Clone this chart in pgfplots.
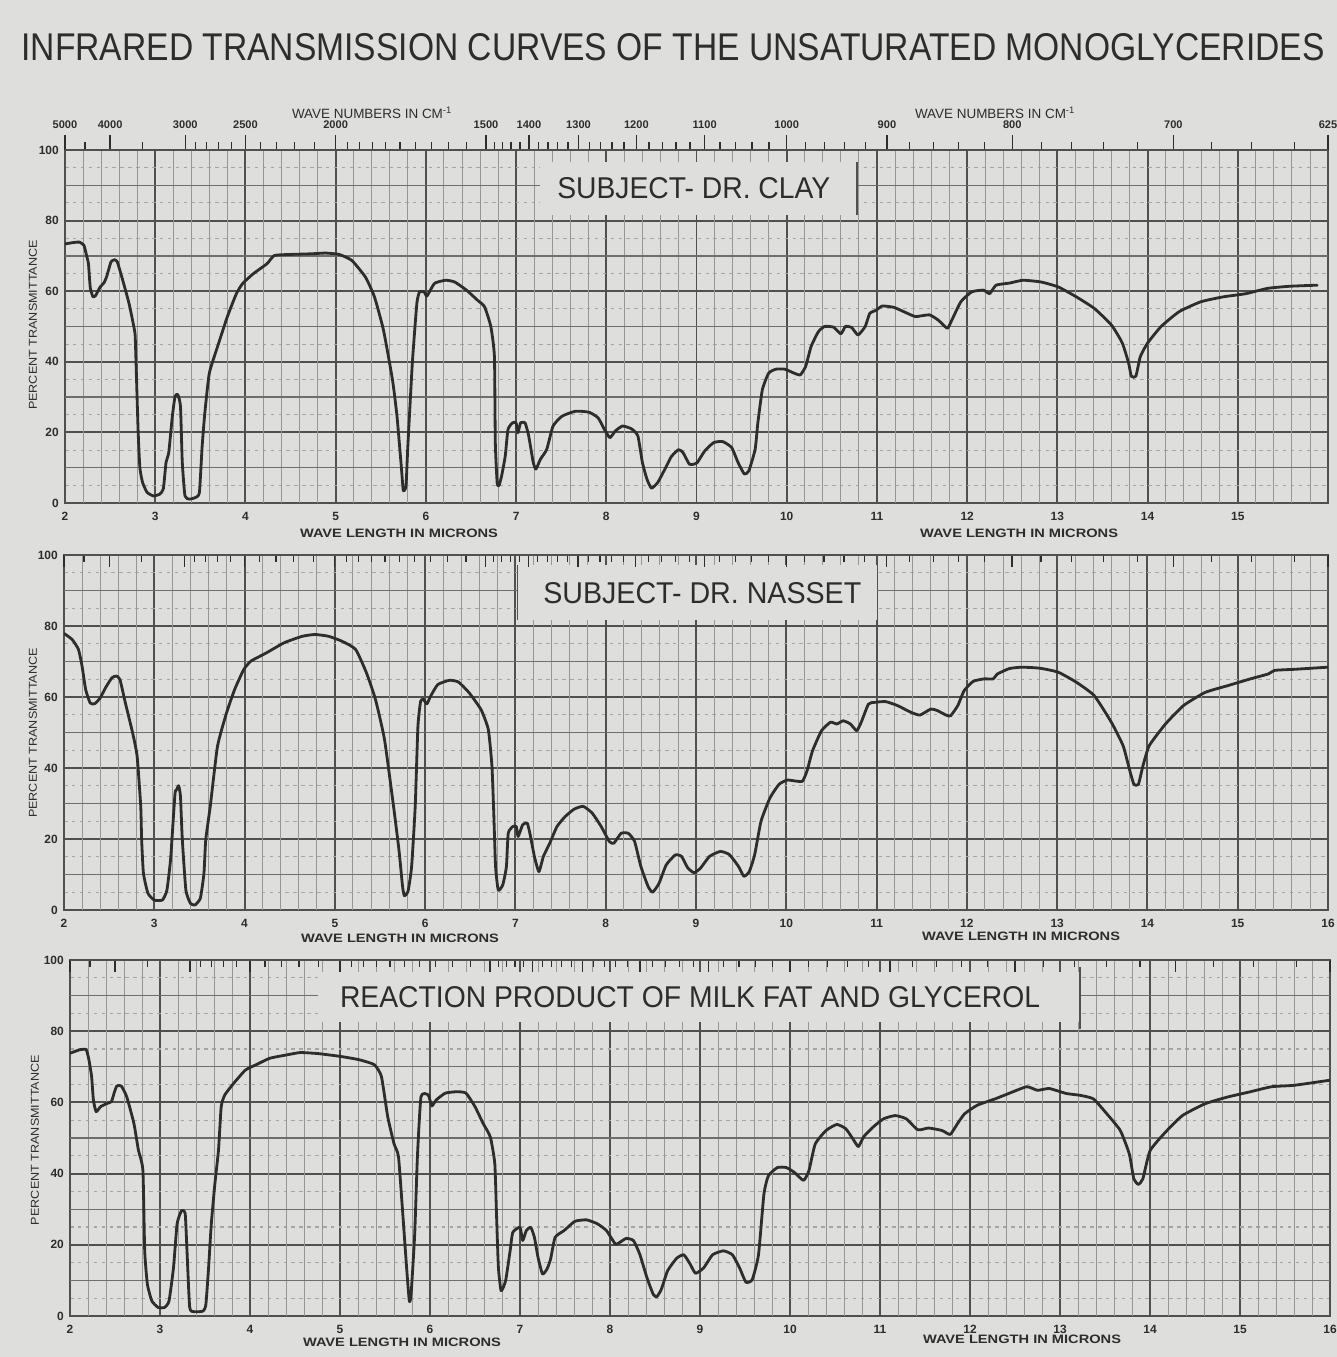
\documentclass[border=0pt]{standalone}
\usepackage{graphicx}
\usepackage{pgfplots}
\pgfplotsset{compat=1.18}
\usepackage{fontspec}
\setmainfont{Liberation Sans}
\setsansfont{Liberation Sans}

\definecolor{bg}{RGB}{222,222,220}
\definecolor{ink}{RGB}{45,45,45}
\definecolor{gmaj}{RGB}{80,80,80}
\definecolor{gmid}{RGB}{110,110,110}
\definecolor{gmin}{RGB}{150,150,150}
\definecolor{gdot}{RGB}{165,165,165}

\pgfplotstableread{
x y
2.00 73.4
2.10 73.8
2.16 73.9
2.21 73.0
2.24 70.0
2.26 67.8
2.28 61.0
2.31 58.4
2.34 58.8
2.39 61.2
2.43 62.3
2.46 64.0
2.51 68.3
2.55 68.9
2.58 68.3
2.63 64.0
2.71 56.5
2.77 49.0
2.78 46.0
2.81 20.8
2.83 10.0
2.86 5.8
2.91 3.0
2.98 2.0
3.05 2.5
3.09 4.0
3.12 11.5
3.15 14.3
3.19 24.6
3.22 30.2
3.25 30.7
3.28 27.4
3.30 11.5
3.33 2.0
3.38 1.1
3.45 1.6
3.49 3.0
3.52 16.0
3.55 25.5
3.60 36.8
3.70 45.0
3.80 52.8
3.90 59.3
3.97 62.2
4.09 65.0
4.24 67.8
4.32 70.1
4.49 70.4
4.74 70.6
4.89 70.8
5.04 70.4
5.18 68.7
5.33 64.0
5.43 58.4
5.53 49.0
5.63 34.9
5.68 24.6
5.73 9.6
5.75 3.5
5.78 4.9
5.80 16.0
5.85 39.6
5.90 56.5
5.93 59.8
5.98 59.8
6.01 58.6
6.05 60.3
6.10 62.3
6.22 63.1
6.32 62.6
6.45 60.3
6.57 57.5
6.65 55.6
6.72 50.0
6.76 41.5
6.77 17.0
6.79 5.8
6.81 4.9
6.84 7.7
6.88 13.3
6.91 20.8
6.96 22.7
7.00 22.7
7.02 19.9
7.05 22.7
7.10 22.7
7.14 19.0
7.19 11.5
7.22 9.6
7.27 12.4
7.34 15.2
7.41 21.8
7.51 24.6
7.66 26.0
7.81 25.7
7.91 24.1
7.98 20.8
8.04 18.5
8.10 20.4
8.18 21.8
8.28 21.0
8.35 19.0
8.40 11.5
8.45 6.8
8.50 4.2
8.57 5.8
8.65 9.6
8.72 13.1
8.80 15.1
8.85 14.3
8.92 11.0
8.97 11.0
9.01 11.5
9.09 14.7
9.19 17.1
9.29 17.4
9.39 15.7
9.46 11.5
9.53 8.2
9.58 9.1
9.65 15.2
9.68 22.7
9.73 32.1
9.80 36.8
9.88 37.9
9.98 37.9
10.08 36.8
10.15 36.3
10.21 38.7
10.27 44.3
10.35 48.5
10.42 50.0
10.52 49.8
10.60 47.9
10.65 50.0
10.72 49.7
10.79 47.6
10.87 50.0
10.92 53.7
10.99 54.6
11.06 55.8
11.19 55.4
11.34 53.7
11.43 52.8
11.58 53.3
11.68 51.8
11.78 49.5
11.83 51.8
11.93 57.0
12.05 59.8
12.18 60.3
12.25 59.3
12.32 61.7
12.47 62.3
12.62 63.1
12.82 62.6
13.01 61.2
13.21 58.4
13.41 55.1
13.60 50.4
13.72 45.3
13.79 39.6
13.82 35.9
13.87 35.9
13.92 41.5
14.00 45.3
14.15 50.0
14.35 54.2
14.59 57.0
14.84 58.4
15.09 59.3
15.33 60.8
15.58 61.4
15.88 61.7
}\clay

\pgfplotstableread{
x y
2.00 77.9
2.09 76.2
2.16 73.4
2.20 68.7
2.24 62.1
2.29 58.3
2.34 58.1
2.40 59.7
2.46 62.6
2.53 65.4
2.58 65.9
2.62 64.9
2.68 58.3
2.76 49.9
2.81 43.3
2.85 29.2
2.86 19.8
2.88 10.3
2.93 4.7
3.00 2.8
3.09 2.8
3.14 5.6
3.18 14.1
3.20 21.6
3.23 32.9
3.25 34.0
3.27 35.0
3.29 32.0
3.31 20.0
3.35 5.6
3.40 1.9
3.45 1.4
3.51 3.3
3.55 10.3
3.57 19.8
3.62 29.2
3.70 46.1
3.80 55.5
3.89 62.1
3.99 67.7
4.07 70.1
4.24 72.4
4.44 75.3
4.64 77.1
4.78 77.6
4.93 77.1
5.08 75.7
5.23 73.4
5.35 66.8
5.45 59.3
5.55 48.0
5.65 29.2
5.71 16.9
5.75 6.6
5.77 4.0
5.81 5.2
5.85 12.2
5.89 29.2
5.92 51.7
5.95 58.8
5.98 59.3
6.02 58.1
6.06 60.2
6.14 63.5
6.27 64.7
6.37 64.2
6.49 61.1
6.62 56.4
6.70 50.8
6.74 40.5
6.76 27.3
6.78 12.2
6.81 5.6
6.86 7.1
6.90 12.2
6.92 21.6
6.97 23.5
7.01 23.5
7.03 20.7
7.08 24.0
7.13 24.5
7.16 21.6
7.21 15.1
7.26 10.8
7.31 15.1
7.38 18.8
7.46 23.5
7.55 26.3
7.65 28.4
7.75 29.2
7.85 27.3
7.95 23.5
8.04 19.3
8.09 18.8
8.17 21.6
8.25 21.6
8.32 19.3
8.39 12.2
8.47 6.6
8.52 5.0
8.59 7.5
8.67 12.7
8.77 15.5
8.84 15.1
8.91 11.8
8.98 10.5
9.05 11.8
9.15 15.1
9.27 16.5
9.37 15.6
9.47 12.3
9.53 9.5
9.59 10.8
9.65 15.6
9.72 25.0
9.82 31.6
9.92 35.4
10.01 36.6
10.11 36.3
10.18 36.3
10.23 39.2
10.29 44.8
10.39 50.5
10.49 52.9
10.56 52.4
10.63 53.3
10.71 52.4
10.78 50.5
10.83 52.9
10.91 58.0
10.98 58.5
11.10 58.7
11.23 57.6
11.38 55.7
11.48 54.9
11.60 56.6
11.67 56.2
11.77 54.9
11.82 54.7
11.90 57.6
11.97 61.8
12.07 64.4
12.19 65.1
12.29 65.1
12.34 66.5
12.47 68.0
12.61 68.4
12.81 68.1
13.01 67.0
13.21 64.2
13.41 60.4
13.60 52.9
13.73 46.3
13.80 39.7
13.85 35.4
13.90 35.4
13.95 40.6
14.02 46.3
14.20 52.4
14.40 57.6
14.64 61.3
14.89 63.2
15.14 65.1
15.34 66.5
15.41 67.5
15.63 67.8
16.00 68.4
}\nasset

\pgfplotstableread{
x y
2.00 73.8
2.11 74.8
2.18 74.8
2.21 72.0
2.24 67.3
2.26 60.7
2.29 57.4
2.34 58.8
2.41 59.7
2.46 60.2
2.49 62.6
2.52 64.6
2.57 64.6
2.63 61.6
2.71 54.1
2.76 46.6
2.81 40.9
2.83 18.3
2.86 8.9
2.91 4.2
2.98 2.4
3.05 2.4
3.10 4.2
3.15 13.6
3.19 25.9
3.24 29.6
3.28 28.7
3.30 18.3
3.33 2.4
3.38 1.2
3.48 1.4
3.51 3.3
3.54 13.6
3.57 25.9
3.61 37.2
3.65 46.6
3.68 58.8
3.72 62.1
3.82 65.4
3.95 69.1
4.07 70.6
4.22 72.4
4.42 73.4
4.56 74.0
4.76 73.7
5.01 72.9
5.21 72.0
5.38 70.6
5.46 67.3
5.53 56.0
5.60 48.4
5.65 44.7
5.70 27.8
5.74 13.6
5.77 4.2
5.79 6.1
5.83 23.0
5.86 44.7
5.90 61.6
5.98 62.1
6.02 59.0
6.07 60.7
6.17 62.6
6.30 63.0
6.40 62.6
6.50 58.8
6.59 54.1
6.67 50.3
6.72 42.8
6.74 27.8
6.76 13.6
6.79 7.1
6.84 9.9
6.89 18.3
6.92 23.5
7.00 24.9
7.03 21.2
7.07 24.0
7.12 24.9
7.16 22.1
7.20 16.5
7.25 11.8
7.30 13.2
7.34 16.0
7.39 22.1
7.49 24.0
7.61 26.6
7.74 27.0
7.86 25.9
7.96 24.0
8.06 20.2
8.11 20.7
8.18 21.8
8.26 21.2
8.33 17.4
8.41 10.8
8.48 6.1
8.52 5.4
8.57 7.5
8.64 12.7
8.74 16.2
8.82 17.2
8.89 14.6
8.95 12.0
9.04 13.5
9.14 17.2
9.26 18.3
9.36 17.2
9.44 13.5
9.51 9.5
9.58 10.2
9.65 17.2
9.71 34.2
9.76 39.4
9.86 41.7
9.96 41.7
10.05 40.3
10.15 38.1
10.21 40.8
10.28 48.3
10.40 52.1
10.52 53.8
10.62 52.6
10.70 49.7
10.76 47.6
10.82 50.4
10.92 53.0
11.04 55.4
11.17 56.3
11.29 55.4
11.42 52.3
11.54 52.8
11.69 52.1
11.78 51.0
11.86 54.0
11.94 56.8
12.08 59.2
12.28 61.0
12.43 62.5
12.63 64.4
12.75 63.4
12.88 63.9
13.07 62.5
13.22 62.0
13.37 61.0
13.52 56.8
13.67 52.1
13.77 45.5
13.82 38.5
13.87 37.0
13.92 38.5
14.00 46.4
14.17 51.6
14.36 56.3
14.61 59.6
14.86 61.5
15.10 62.9
15.35 64.4
15.60 64.8
15.99 66.2
}\milk

\pgfplotsset{
  irpanel/.style={
    scale only axis, anchor=south west,
    xmin=2, xmax=16, ymin=0, ymax=100,
    xtick={2,...,16},
    extra x ticks={2.2,2.4,2.6,2.8,3.2,3.4,3.6,3.8,4.2,4.4,4.6,4.8,5.2,5.4,5.6,5.8,6.2,6.4,6.6,6.8,7.2,7.4,7.6,7.8,8.2,8.4,8.6,8.8,9.2,9.4,9.6,9.8,10.2,10.4,10.6,10.8,11.2,11.4,11.6,11.8,12.2,12.4,12.6,12.8,13.2,13.4,13.6,13.8,14.2,14.4,14.6,14.8,15.2,15.4,15.6,15.8},
    extra x tick labels={},
    extra x tick style={grid=major, major grid style={gmin, line width=0.5pt}},
    ytick={0,20,40,60,80,100},
    yticklabels={0,20,40,60,80,100},
    minor ytick={5,15,25,35,45,55,65,75,85,95},
    extra y ticks={10,30,50,70,90},
    extra y tick labels={},
    extra y tick style={grid=major, major grid style={gmid, line width=0.75pt}},
    grid=both,
    major grid style={gmaj, line width=1.1pt},
    minor grid style={gdot, line width=0.6pt, dash pattern=on 2pt off 2.5pt},
    major tick length=0pt, minor tick length=0pt,
    axis line style={gmaj, line width=1.2pt},
    tick label style={font=\fontsize{6.8}{7}\selectfont\bfseries, text=ink},
    every x tick label/.append style={yshift=-0.6mm},
  },
  curve/.style={ink, line width=1.6pt, line join=round, line cap=round, smooth, tension=0.3},
  topticks/.style={
    scale only axis, anchor=south west,
    xmin=2, xmax=16, ymin=0, ymax=100,
    axis x line*=top, axis y line=none,
    xtick={2,2.5,3.3333,4,5,6.6667,7.1429,7.6923,8.3333,9.0909,10,11.1111,12.5,14.2857,16},
    minor xtick={2.2222,2.8571,3.4483,3.5714,3.7037,3.8462,4.1667,4.3478,4.5455,4.7619,5.2632,5.5556,5.8824,6.25,5.1282,5.4054,5.7143,6.0606,6.4516,6.7568,6.8493,6.9444,7.0423,7.2464,7.3529,7.4627,7.5758,7.8125,7.9365,8.0645,8.1967,8.4746,8.6207,8.7719,8.9286,9.2593,9.4340,9.6154,9.8039,10.2041,10.4167,10.6383,10.8696,11.3636,11.6279,11.9048,12.1951,12.8205,13.1579,13.5135,13.8889,14.7059,15.1515,15.625},
    every tick/.style={ink, line width=0.7pt},
    axis line style={gmaj, line width=1.2pt},
    tick label style={font=\fontsize{6.3}{7}\selectfont\bfseries, text=ink},
  },
}

\newcommand{\wl}{\resizebox{3.96cm}{0.17cm}{\bfseries WAVE LENGTH IN MICRONS}}
\newcommand{\pt}{\resizebox{3.4cm}{0.16cm}{PERCENT TRANSMITTANCE}}

\begin{document}
\begin{tikzpicture}
\fill[bg] (0,0) rectangle (26.74,27.14);
\node[text=ink, inner sep=0] at (13.46,26.20) {\resizebox{26.06cm}{0.54cm}{INFRARED TRANSMISSION CURVES OF THE UNSATURATED MONOGLYCERIDES}};

% ---------- Panel 1 ----------
\begin{axis}[irpanel, at={(1.30cm,17.08cm)}, width=25.26cm, height=7.06cm,
  xticklabels={2,3,4,5,6,7,8,9,10,11,12,13,14,15,{}}]
\fill[bg] (axis cs:7.27,81.5) rectangle (axis cs:10.78,96.5);
\draw[gmaj, line width=0.8pt] (axis cs:10.78,81.5) -- (axis cs:10.78,96.5);
\node[text=ink, inner sep=0] at (axis cs:8.97,89.2) {\resizebox{5.46cm}{0.42cm}{SUBJECT- DR. CLAY}};
\addplot[curve] table[x=x,y=y] {\clay};
\end{axis}
\begin{axis}[topticks, at={(1.30cm,17.08cm)}, width=25.26cm, height=7.06cm,
  tick align=outside, major tick length=0.3cm, minor tick length=0.16cm,
  xticklabels={5000,4000,3000,2500,2000,1500,1400,1300,1200,1100,1000,900,800,700,625}]
\end{axis}
\node[text=ink, inner sep=0] at (7.44,24.88) {\resizebox{3.2cm}{!}{WAVE NUMBERS IN CM\textsuperscript{-1}}};
\node[text=ink, inner sep=0] at (19.90,24.88) {\resizebox{3.2cm}{!}{WAVE NUMBERS IN CM\textsuperscript{-1}}};
\node[text=ink, inner sep=0, rotate=90] at (0.66,20.64) {\pt};
\node[text=ink, inner sep=0] at (7.98,16.48) {\wl};
\node[text=ink, inner sep=0] at (20.38,16.48) {\wl};

% ---------- Panel 2 ----------
\begin{axis}[irpanel, at={(1.28cm,8.94cm)}, width=25.28cm, height=7.10cm,
  xticklabels={2,3,4,5,6,7,8,9,10,11,12,13,14,15,16}]
\fill[bg] (axis cs:7.02,81.7) rectangle (axis cs:11.0,97.2);
\draw[gmaj, line width=0.8pt] (axis cs:7.02,81.7) -- (axis cs:7.02,97.2);
\node[text=ink, inner sep=0] at (axis cs:9.07,89.3) {\resizebox{6.36cm}{0.42cm}{SUBJECT- DR. NASSET}};
\addplot[curve] table[x=x,y=y] {\nasset};
\end{axis}
\begin{axis}[topticks, at={(1.28cm,8.94cm)}, width=25.28cm, height=7.10cm,
  tick align=inside, major tick length=0.25cm, minor tick length=0.14cm,
  xticklabels={}]
\end{axis}
\node[text=ink, inner sep=0, rotate=90] at (0.66,12.48) {\pt};
\node[text=ink, inner sep=0] at (8.0,8.38) {\wl};
\node[text=ink, inner sep=0] at (20.42,8.42) {\wl};

% ---------- Panel 3 ----------
\begin{axis}[irpanel, at={(1.40cm,0.82cm)}, width=25.2cm, height=7.12cm,
  xticklabels={2,3,4,5,6,7,8,9,10,11,12,13,14,15,16}]
\fill[bg] (axis cs:4.76,82.6) rectangle (axis cs:13.22,96.6);
\draw[gmaj, line width=0.8pt] (axis cs:13.22,80.5) -- (axis cs:13.22,98);
\node[text=ink, inner sep=0] at (axis cs:8.89,89.6) {\resizebox{14.0cm}{0.42cm}{REACTION PRODUCT OF MILK FAT AND GLYCEROL}};
\addplot[curve] table[x=x,y=y] {\milk};
\end{axis}
\begin{axis}[topticks, at={(1.40cm,0.82cm)}, width=25.2cm, height=7.12cm,
  tick align=inside, major tick length=0.25cm, minor tick length=0.14cm,
  xticklabels={}]
\end{axis}
\node[text=ink, inner sep=0, rotate=90] at (0.70,4.34) {\pt};
\node[text=ink, inner sep=0] at (8.04,0.30) {\wl};
\node[text=ink, inner sep=0] at (20.44,0.36) {\wl};

\pgfresetboundingbox
\useasboundingbox (0,0) rectangle (26.74,27.14);
\end{tikzpicture}
\end{document}
